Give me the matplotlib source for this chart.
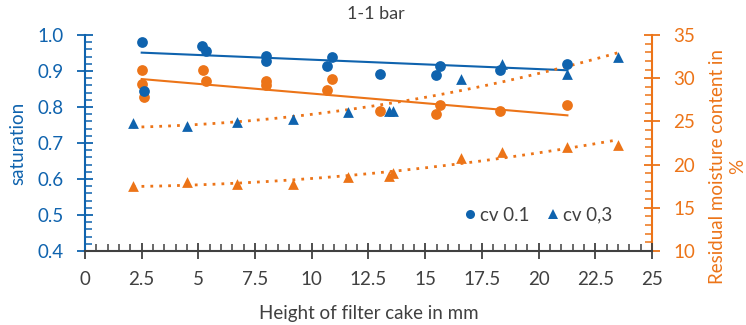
import numpy as np
import matplotlib
matplotlib.use('Agg')
import matplotlib.pyplot as plt
from matplotlib.ticker import MultipleLocator
from matplotlib.lines import Line2D

# --- DATA ---
x_sat_cv01 = [2.5, 2.6, 5.14, 5.32, 7.98, 7.98, 10.88, 10.67, 12.99, 15.48, 15.67, 18.3, 21.27]
sat_cv01 = [0.981, 0.845, 0.969, 0.956, 0.942, 0.928, 0.940, 0.915, 0.893, 0.889, 0.913, 0.903, 0.919]

x_sat_cv03 = [2.1, 4.51, 6.69, 9.19, 11.58, 13.42, 13.6, 16.58, 18.37, 21.27, 23.49]
sat_cv03 = [0.755, 0.747, 0.758, 0.767, 0.786, 0.789, 0.789, 0.879, 0.919, 0.892, 0.938]

x_rm_cv01 = [2.5, 2.5, 2.6, 5.19, 5.32, 7.98, 7.98, 10.88, 10.67, 12.99, 15.48, 15.67, 18.3, 21.27]
rm_cv01 = [30.9, 29.3, 27.8, 30.9, 29.7, 29.7, 29.2, 29.9, 28.6, 26.2, 25.9, 26.9, 26.2, 26.9]

x_rm_cv03 = [2.1, 4.51, 6.69, 9.19, 11.58, 13.42, 13.6, 16.58, 18.37, 21.27, 23.49]
rm_cv03 = [17.56, 17.95, 17.7, 17.8, 18.6, 18.7, 19.0, 20.8, 21.5, 22.0, 22.3]

# linear trendlines as drawn in the reference (ends)
trend_x_cv01 = [2.5, 21.27]
trend_sat_cv01 = [0.951, 0.902]
trend_rm_cv01 = [29.9, 25.7]

x_ticks = [0, 2.5, 5, 7.5, 10, 12.5, 15, 17.5, 20, 22.5, 25]
x_ticklabels = ['0', '2.5', '5', '7.5', '10', '12.5', '15', '17.5', '20', '22.5', '25']

BLUE = '#0F63AE'
ORANGE = '#EC7418'
GREY = '#404040'
FS = 13.5

plt.rcParams['font.family'] = ['Lato', 'DejaVu Sans']


def poly_trend(ax, xs, ys, deg, **kw):
    """Excel-style polynomial trendline over the data range."""
    c = np.polyfit(xs, ys, deg)
    xx = np.linspace(min(xs), max(xs), 200)
    ax.plot(xx, np.polyval(c, xx), **kw)


fig = plt.figure(figsize=(7.46, 3.25), dpi=100)
ax = fig.add_axes([85 / 746, 1 - 251 / 325, (652 - 85) / 746, (251 - 35) / 325])
ax2 = ax.twinx()

dotted = dict(color=ORANGE, lw=2, ls=(0, (1, 2.2)), zorder=4)

# saturation (left axis)
ax.scatter(x_sat_cv01, sat_cv01, s=60, marker='o', color=BLUE, zorder=5, linewidths=0)
ax.scatter(x_sat_cv03, sat_cv03, s=60, marker='^', color=BLUE, zorder=5, linewidths=0)
ax.plot(trend_x_cv01, trend_sat_cv01, color=BLUE, lw=1.5, zorder=4)
poly_trend(ax, x_sat_cv03, sat_cv03, 2, **dotted)

# residual moisture (right axis)
ax2.scatter(x_rm_cv01, rm_cv01, s=60, marker='o', color=ORANGE, zorder=5, linewidths=0)
ax2.scatter(x_rm_cv03, rm_cv03, s=60, marker='^', color=ORANGE, zorder=5, linewidths=0)
ax2.plot(trend_x_cv01, trend_rm_cv01, color=ORANGE, lw=1.5, zorder=4)
poly_trend(ax2, x_rm_cv03, rm_cv03, 2, **dotted)

ax.set_xlim(0, 25)
ax.set_ylim(0.4, 1.0)
ax2.set_ylim(10, 35)

ax.set_xticks(x_ticks)
ax.set_xticklabels(x_ticklabels)
ax.xaxis.set_minor_locator(MultipleLocator(0.5))
ax.yaxis.set_major_locator(MultipleLocator(0.1))
ax.yaxis.set_minor_locator(MultipleLocator(0.02))
ax2.yaxis.set_major_locator(MultipleLocator(5))
ax2.yaxis.set_minor_locator(MultipleLocator(1))

for a in (ax, ax2):
    a.spines['top'].set_visible(False)
ax.spines['right'].set_visible(False)
ax2.spines['left'].set_visible(False)
ax2.spines['bottom'].set_visible(False)
ax.spines['left'].set_color(BLUE)
ax.spines['left'].set_linewidth(1.5)
ax.spines['bottom'].set_color(GREY)
ax.spines['bottom'].set_linewidth(1.5)
ax2.spines['right'].set_color(ORANGE)
ax2.spines['right'].set_linewidth(1.5)

ax.tick_params(axis='x', which='major', direction='inout', length=11, width=1.3,
               colors=GREY, labelsize=FS, pad=9)
ax.tick_params(axis='x', which='minor', direction='in', length=5, width=1.1, colors=GREY)
ax.tick_params(axis='y', which='major', direction='inout', length=11, width=1.3,
               colors=BLUE, labelsize=FS, pad=10)
ax.tick_params(axis='y', which='minor', direction='in', length=5, width=1.1, colors=BLUE)
ax2.tick_params(axis='y', which='major', direction='inout', length=11, width=1.3,
                colors=ORANGE, labelsize=FS, pad=10)
ax2.tick_params(axis='y', which='minor', direction='in', length=5, width=1.1, colors=ORANGE)

ax.set_xlabel('Height of filter cake in mm', fontsize=FS, color=GREY)
ax.xaxis.set_label_coords(0.5, -0.25)
ax.set_ylabel('saturation', fontsize=FS, color=BLUE)
ax.yaxis.set_label_coords(-0.103, 0.5)
ax2.set_ylabel('Residual moisture content in\n%', fontsize=FS, color=ORANGE,
               linespacing=1.25)
ax2.yaxis.set_label_coords(1.10, 0.39)

fig.text(0.504, 0.958, '1-1 bar', ha='center', va='center', fontsize=13, color=GREY)

handles = [Line2D([], [], ls='', marker='o', ms=6.5, color=BLUE, mew=0),
           Line2D([], [], ls='', marker='^', ms=6.5, color=BLUE, mew=0)]
ax.legend(handles, ['cv 0.1', 'cv 0,3'], loc='center', bbox_to_anchor=(0.8, 0.165),
          ncol=2, frameon=False, fontsize=FS, handlelength=0.5, handletextpad=0.3,
          columnspacing=1.0, labelcolor=GREY, borderpad=0)

ax.set_zorder(ax2.get_zorder() + 1)
ax.patch.set_visible(False)

fig.savefig('out.png', dpi=100)
